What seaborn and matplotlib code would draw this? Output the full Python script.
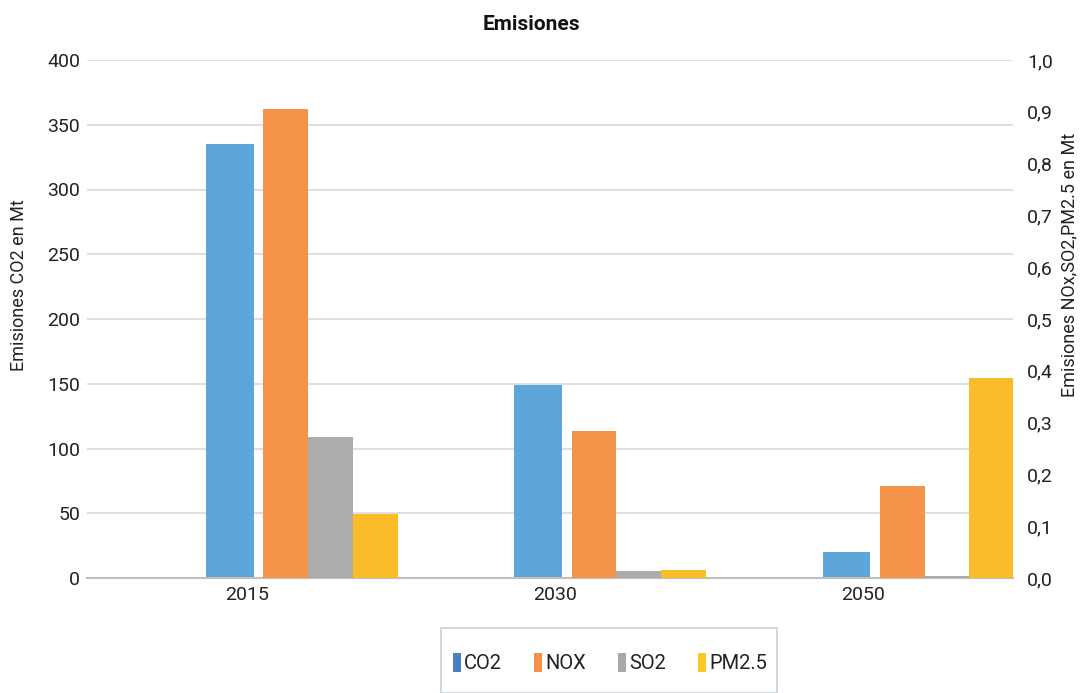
import matplotlib
matplotlib.use("Agg")
import matplotlib.pyplot as plt
from matplotlib.patches import Patch, Rectangle
from matplotlib.ticker import FuncFormatter, MultipleLocator
import numpy as np
import pandas as pd
import seaborn as sns

# ---- data -------------------------------------------------------------
years = ["2015", "2030", "2050"]
co2 = [335, 149, 20]            # Mt, left axis
nox = [0.905, 0.284, 0.178]     # Mt, right axis
so2 = [0.272, 0.013, 0.004]
pm25 = [0.123, 0.016, 0.387]
pollutants = ["NOX", "SO2", "PM2.5"]

bar_colors = {"CO2": "#5EA5D9", "NOX": "#F4934A", "SO2": "#ABACAB", "PM2.5": "#FBBC2A"}
legend_colors = {"CO2": "#4A7EC4", "NOX": "#F5914A", "SO2": "#A9A9A9", "PM2.5": "#FFC726"}

# ---- style ------------------------------------------------------------
sns.set_theme(style="white")
plt.rcParams["font.family"] = ["Liberation Sans Narrow", "DejaVu Sans Condensed", "Roboto", "DejaVu Sans"]
plt.rcParams["text.color"] = "#222222"

fig = plt.figure(figsize=(10.9, 6.93), dpi=100)
W, H = 1090, 693
ax = fig.add_axes([87 / W, 1 - 578 / H, (1013 - 87) / W, (578 - 60) / H])
ax2 = ax.twinx()

# ---- CO2 on the primary axis -----------------------------------------
df_co2 = pd.DataFrame({"year": years, "value": co2})
sns.barplot(data=df_co2, x="year", y="value", ax=ax, color=bar_colors["CO2"],
            saturation=1, width=0.154, linewidth=0, errorbar=None)
for p in ax.patches:
    p.set_x(p.get_x() - 0.0545)

# ---- other pollutants on the secondary axis ----------------------------
df_sec = pd.DataFrame({"year": years, "NOX": nox, "SO2": so2, "PM2.5": pm25})
df_sec = df_sec.melt(id_vars="year", var_name="series", value_name="value")
sns.barplot(data=df_sec, x="year", y="value", hue="series", hue_order=pollutants,
            palette=[bar_colors[s] for s in pollutants], ax=ax2, saturation=1,
            width=0.435, linewidth=0, errorbar=None, legend=False)
for p in ax2.patches:
    p.set_x(p.get_x() + 0.2718)

# ---- axes -------------------------------------------------------------
for a in (ax, ax2):
    a.set_xlim(-0.518, 2.486)
    for s in a.spines.values():
        s.set_visible(False)
    a.tick_params(axis="both", length=0, labelsize=14, colors="#222222")

ax.spines["bottom"].set_visible(True)
ax.spines["bottom"].set_color("#BFBFBF")
ax.spines["bottom"].set_linewidth(1.5)

ax.set_ylim(0, 400)
ax.yaxis.set_major_locator(MultipleLocator(50))
ax.grid(axis="y", color="#D9D9D9", linewidth=1.2)
ax.grid(axis="x", visible=False)
ax.set_axisbelow(True)
ax.tick_params(axis="y", pad=5)
ax.tick_params(axis="x", pad=6)

ax2.set_ylim(0, 1.0)
ax2.yaxis.set_major_locator(MultipleLocator(0.1))
ax2.yaxis.set_major_formatter(FuncFormatter(lambda v, _: f"{v:.1f}".replace(".", ",")))
ax2.tick_params(axis="y", pad=10)
ax2.grid(False)

ax.set_xlabel("")
ax.set_ylabel("Emisiones CO2 en Mt", fontsize=13, color="#222222")
ax.yaxis.set_label_coords(-0.0637, 0.566)
ax2.set_ylabel("Emisiones NOx,SO2,PM2.5 en Mt", fontsize=13, color="#222222")
ax2.yaxis.set_label_coords(1.051, 0.604)
ax2.set_xlabel("")

# ---- title ------------------------------------------------------------
fig.text(531 / W, 1 - 25 / H, "Emisiones", ha="center", va="center",
         fontsize=15, fontweight="bold", color="#111111")

# ---- legend -----------------------------------------------------------
fig.patches.append(Rectangle((441 / W, 0), (777 - 441) / W, (693 - 628) / H,
                             transform=fig.transFigure, facecolor="white",
                             edgecolor="#C8D2D6", linewidth=1.2, clip_on=False))
handles = [Patch(facecolor=legend_colors[s], edgecolor="none", label=s)
           for s in ["CO2", "NOX", "SO2", "PM2.5"]]
fig.legend(handles=handles, loc="center", bbox_to_anchor=(610 / W, 1 - 663 / H),
           ncol=4, frameon=False, fontsize=14.5, handlelength=0.4, handleheight=1.1,
           handletextpad=0.15, columnspacing=1.6)

fig.savefig("out.png", dpi=100)
